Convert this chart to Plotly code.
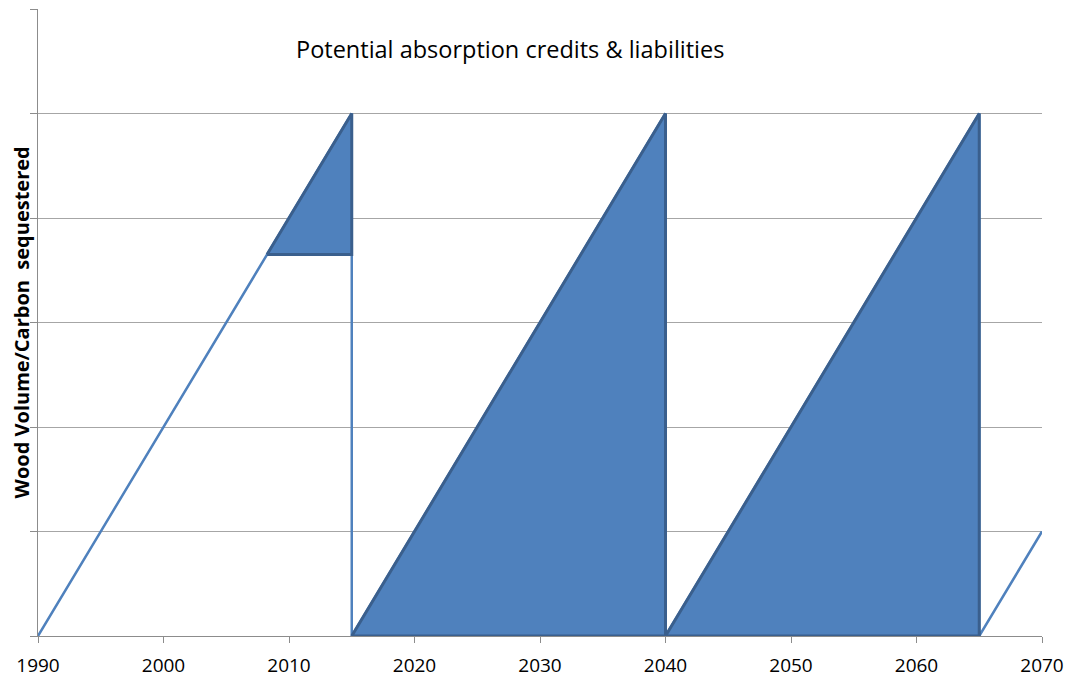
import plotly.graph_objects as go

# Sawtooth growth / harvest cycle of standing wood volume
years = [1990, 2015, 2015, 2040, 2040, 2065, 2065, 2070]
volume = [0, 5, 0, 5, 0, 5, 0, 1]

# Shaded credit/liability regions
small_x = [2008.25, 2015, 2015, 2008.25]
small_y = [3.65, 5, 3.65, 3.65]
tri1_x = [2015, 2040, 2040, 2015]
tri1_y = [0, 5, 0, 0]
tri2_x = [2040, 2065, 2065, 2040]
tri2_y = [0, 5, 0, 0]

x_ticks = [1990, 2000, 2010, 2020, 2030, 2040, 2050, 2060, 2070]

LINE = "#4F81BD"
FILL = "#4F81BD"
EDGE = "#3A5F8D"
FONT = "Open Sans"

fig = go.Figure()
fig.add_trace(go.Scatter(x=years, y=volume, mode="lines",
                         line=dict(color=LINE, width=2.5), hoverinfo="skip"))
for tx, ty in [(small_x, small_y), (tri1_x, tri1_y), (tri2_x, tri2_y)]:
    fig.add_trace(go.Scatter(x=tx, y=ty, mode="lines", fill="toself",
                             fillcolor=FILL, line=dict(color=EDGE, width=3),
                             hoverinfo="skip"))

fig.add_annotation(x=2027.6, y=5.62, xref="x", yref="y",
                   text="Potential absorption credits & liabilities",
                   showarrow=False, font=dict(family=FONT, size=23.5, color="#000000"))

# Rotated y-axis caption
fig.add_annotation(x=-0.016, y=0.5, xref="paper", yref="paper",
                   text="<b>Wood Volume/Carbon  sequestered</b>", textangle=-90,
                   showarrow=False, xanchor="center", yanchor="middle",
                   font=dict(family=FONT, size=20, color="#000000"))

fig.update_layout(
    width=1067, height=687,
    margin=dict(l=38, r=25, t=9, b=51),
    paper_bgcolor="white", plot_bgcolor="white",
    showlegend=False,
    font=dict(family=FONT, color="#000000"),
)
fig.update_xaxes(range=[1990, 2070], tickvals=x_ticks, ticks="outside", ticklen=6,
                 tickcolor="#8c8c8c", showline=True, linecolor="#8c8c8c", linewidth=1,
                 showgrid=False, zeroline=False, tickfont=dict(size=19),
                 ticklabelstandoff=6, automargin=False)
fig.update_yaxes(range=[0, 6], dtick=1, ticks="outside", ticklen=7, tickcolor="#8c8c8c",
                 showticklabels=False, showline=True, linecolor="#8c8c8c", linewidth=1,
                 showgrid=True, gridcolor="#a6a6a6", gridwidth=1, zeroline=False,
                 automargin=False)

fig.write_html("out.html")
